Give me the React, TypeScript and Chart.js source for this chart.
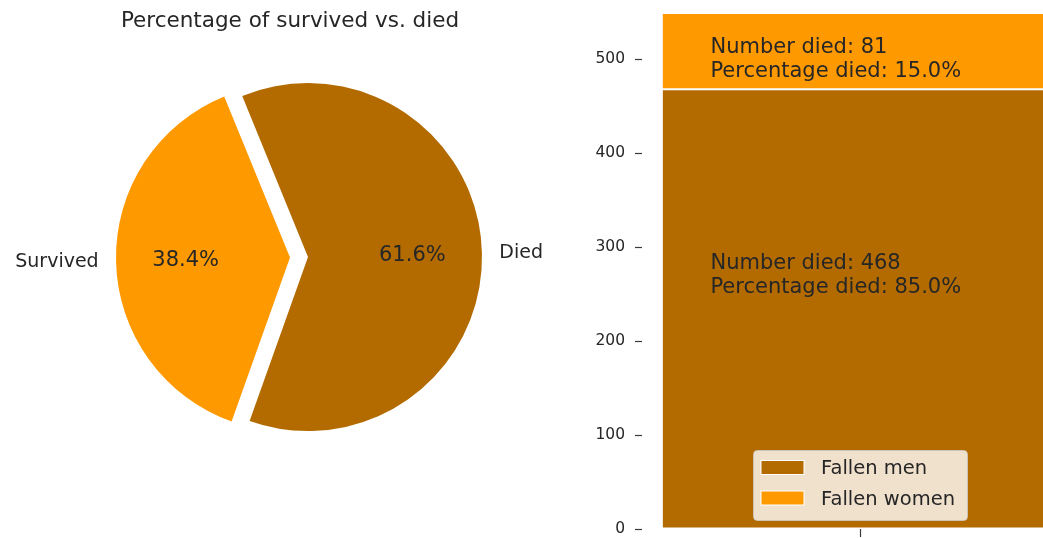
import React, { useEffect, useRef } from "react";
import { Chart, registerables } from "chart.js";

Chart.register(...registerables);

// ---------------- data ----------------
const pieTitle = "Percentage of survived vs. died";
const pieLabels = ["Died", "Survived"];
const pieValues = [549, 342];

const barCategories = ["Died"];
const seriesLabels = ["Fallen men", "Fallen women"];
const fallenMen = [468];
const fallenWomen = [81];
const annotationPercents = ["85.0", "15.0"];
const annotationY = [270, 500]; // data-space centre of each text block
const yTickStep = 100;

// ---------------- style ----------------
const FONT = "'DejaVu Sans', 'Liberation Sans', sans-serif";
const TEXT = "#262626";
const TICK = "#3a3a3a";
const BROWN = "#b36b00";
const ORANGE = "#ff9900";
const pieColors = [BROWN, ORANGE];
const EXPLODE = 18; // px shift of the "Died" wedge
const TILT = 1.3; // degrees
const PIE_RADIUS = 174;
const ANNOT_X = -0.343; // category-scale value for annotation left edge

const pieTextPlugin = {
  id: "pieText",
  afterDatasetsDraw(chart: any, _args: any, opts: any) {
    const ctx = chart.ctx;
    const meta = chart.getDatasetMeta(0);
    const values: number[] = chart.data.datasets[0].data;
    const total = values.reduce((a, b) => a + b, 0);
    const i = opts.index;
    const arc = meta.data[i];
    const { x, y, startAngle, endAngle, outerRadius } = arc.getProps(
      ["x", "y", "startAngle", "endAngle", "outerRadius"],
      true
    );
    const mid = (startAngle + endAngle) / 2;
    const c = Math.cos(mid);
    const s = Math.sin(mid);
    ctx.save();
    ctx.fillStyle = TEXT;
    ctx.textBaseline = "alphabetic";
    const pfs = 21;
    ctx.font = `${pfs}px ${FONT}`;
    ctx.textAlign = "center";
    ctx.fillText(
      `${((values[i] / total) * 100).toFixed(1)}%`,
      x + c * 0.6 * outerRadius,
      y + s * 0.6 * outerRadius + 0.276 * pfs
    );
    const lfs = 19;
    ctx.font = `${lfs}px ${FONT}`;
    ctx.textAlign = c >= 0 ? "left" : "right";
    ctx.fillText(
      chart.data.labels[i],
      x + c * 1.1 * outerRadius,
      y + s * 1.1 * outerRadius + 0.276 * lfs
    );
    if (opts.showTitle) {
      ctx.font = `21.5px ${FONT}`;
      ctx.textAlign = "center";
      ctx.fillText(pieTitle, (chart.chartArea.left + chart.chartArea.right) / 2, 27);
    }
    ctx.restore();
  },
};

function PieSlice(props: { index: number; padding: any; showTitle?: boolean }) {
  const ref = useRef<HTMLCanvasElement | null>(null);
  useEffect(() => {
    const total = pieValues.reduce((a, b) => a + b, 0);
    const diedDeg = (pieValues[0] / total) * 360;
    const rotation = 90 - TILT - diedDeg / 2;
    const colors = pieColors.map((col, i) => (i === props.index ? col : "rgba(0,0,0,0)"));
    const chart = new Chart(ref.current as HTMLCanvasElement, {
      type: "pie",
      data: {
        labels: pieLabels,
        datasets: [
          {
            data: pieValues,
            backgroundColor: colors,
            borderWidth: 0,
            hoverOffset: 0,
            radius: PIE_RADIUS,
            rotation,
          } as any,
        ],
      },
      options: {
        responsive: false,
        animation: false,
        events: [],
        layout: { padding: props.padding },
        plugins: {
          legend: { display: false },
          tooltip: { enabled: false },
          title: { display: false },
          pieText: { index: props.index, showTitle: !!props.showTitle },
        } as any,
      },
      plugins: [pieTextPlugin as any],
    });
    return () => chart.destroy();
  }, []);
  return (
    <canvas
      ref={ref}
      width={580}
      height={538}
      style={{ position: "absolute", left: 0, top: 0 }}
    />
  );
}

const barAnnotPlugin = {
  id: "barAnnot",
  afterDatasetsDraw(chart: any) {
    const ctx = chart.ctx;
    const xs = chart.scales.x;
    const ys = chart.scales.y;
    const fs = 21;
    const gap = 24.4;
    ctx.save();
    ctx.fillStyle = TEXT;
    ctx.font = `${fs}px ${FONT}`;
    ctx.textAlign = "left";
    ctx.textBaseline = "alphabetic";
    chart.data.datasets.forEach((ds: any, i: number) => {
      const lines = [
        `Number died: ${ds.data[0]}`,
        `Percentage died: ${annotationPercents[i]}%`,
      ];
      const xp = xs.getPixelForValue(ANNOT_X);
      const yc = ys.getPixelForValue(annotationY[i]);
      const b1 = yc - (gap + 0.968 * fs) / 2 + 0.76 * fs;
      lines.forEach((t, k) => ctx.fillText(t, xp, b1 + k * gap));
    });
    ctx.restore();
  },
};

const boxLegendPlugin = {
  id: "boxLegend",
  afterDraw(chart: any) {
    const ctx = chart.ctx;
    const area = chart.chartArea;
    const fs = 19.5;
    ctx.save();
    ctx.font = `${fs}px ${FONT}`;
    const names = chart.data.datasets.map((d: any) => d.label);
    const tw = Math.max(...names.map((n: string) => ctx.measureText(n).width));
    const padL = 8, swW = 43, swH = 14, gapT = 17, padR = 12;
    const w = padL + swW + gapT + tw + padR;
    const h = 70;
    const cx = (area.left + area.right) / 2;
    const left = cx - w / 2;
    const top = area.bottom - 9 - h;
    ctx.beginPath();
    (ctx as any).roundRect(left + 0.5, top + 0.5, w, h, 4);
    ctx.fillStyle = "rgba(255,255,255,0.8)";
    ctx.fill();
    ctx.strokeStyle = "rgba(204,204,204,0.8)";
    ctx.lineWidth = 1;
    ctx.stroke();
    const rows = [top + 17.5, top + 48];
    chart.data.datasets.forEach((d: any, i: number) => {
      const ry = rows[i];
      ctx.fillStyle = d.backgroundColor;
      ctx.fillRect(left + padL, ry - swH / 2, swW, swH);
      ctx.strokeStyle = "#ffffff";
      ctx.lineWidth = 1;
      ctx.strokeRect(left + padL, ry - swH / 2, swW, swH);
      ctx.fillStyle = TEXT;
      ctx.textAlign = "left";
      ctx.textBaseline = "alphabetic";
      ctx.fillText(d.label, left + padL + swW + gapT, ry + 6.7);
    });
    ctx.restore();
  },
};

function BarPanel() {
  const ref = useRef<HTMLCanvasElement | null>(null);
  useEffect(() => {
    const total = fallenMen[0] + fallenWomen[0];
    const chart = new Chart(ref.current as HTMLCanvasElement, {
      type: "bar",
      data: {
        labels: barCategories,
        datasets: [
          {
            label: seriesLabels[0],
            data: fallenMen,
            backgroundColor: BROWN,
            borderColor: "#ffffff",
            borderWidth: 1,
            borderSkipped: false,
            barPercentage: 0.909,
            categoryPercentage: 1.0,
          },
          {
            label: seriesLabels[1],
            data: fallenWomen,
            backgroundColor: ORANGE,
            borderColor: "#ffffff",
            borderWidth: 1,
            borderSkipped: false,
            barPercentage: 0.909,
            categoryPercentage: 1.0,
          },
        ],
      },
      options: {
        responsive: false,
        animation: false,
        events: [],
        layout: { padding: { top: 43, bottom: 20, left: 0, right: 0 } },
        plugins: {
          legend: { display: false },
          tooltip: { enabled: false },
          title: { display: false },
        },
        scales: {
          x: {
            stacked: true,
            offset: true,
            border: { display: false },
            grid: {
              display: true,
              drawOnChartArea: false,
              drawTicks: true,
              tickLength: 8,
              tickWidth: 1.2,
              tickColor: TICK,
              offset: false,
            },
            ticks: { display: false },
          },
          y: {
            stacked: true,
            min: 0,
            max: total,
            border: { display: false },
            grid: {
              display: true,
              drawOnChartArea: false,
              drawTicks: true,
              tickLength: 7,
              tickWidth: 1.2,
              tickColor: TICK,
            },
            ticks: {
              stepSize: yTickStep,
              includeBounds: false,
              padding: 10,
              color: TEXT,
              font: { family: FONT, size: 15.5 },
            },
            afterFit: (s: any) => {
              s.width = 62;
            },
          },
        },
      },
      plugins: [barAnnotPlugin as any, boxLegendPlugin as any],
    });
    return () => chart.destroy();
  }, []);
  return (
    <canvas
      ref={ref}
      width={498}
      height={587}
      style={{ position: "absolute", left: 580, top: -30 }}
    />
  );
}

export default function App() {
  const t = (TILT * Math.PI) / 180;
  const dx = EXPLODE * Math.cos(t);
  const dy = -EXPLODE * Math.sin(t);
  return (
    <div
      style={{
        position: "absolute",
        left: 0,
        top: 0,
        width: 1043,
        height: 538,
        overflow: "hidden",
        background: "#ffffff",
      }}
    >
      <PieSlice index={1} padding={{ left: 0, right: 0, top: 40, bottom: 63 }} showTitle />
      <PieSlice
        index={0}
        padding={{ left: 2 * dx, right: 0, top: 40 + dy, bottom: 63 - dy }}
      />
      <BarPanel />
    </div>
  );
}
